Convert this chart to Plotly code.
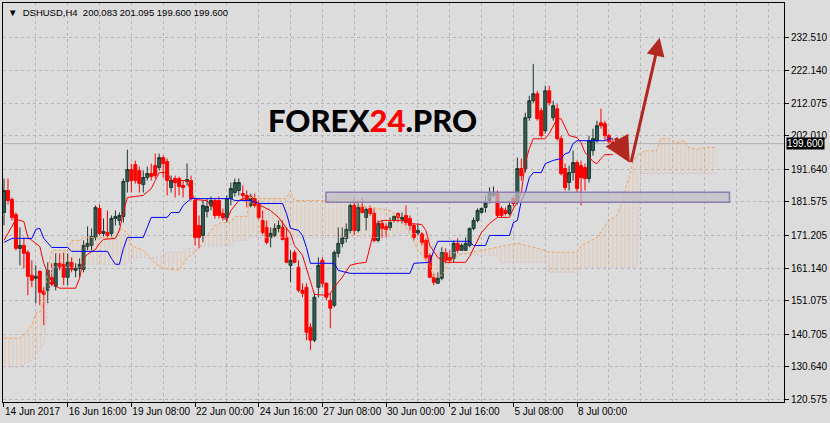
import plotly.graph_objects as go

# ---------------- data ----------------
symbol = "DSHUSD,H4"
time_tick_bars = [0, 16, 32, 48, 64, 80, 96, 112, 128, 144]
time_tick_labels = ["14 Jun 2017", "16 Jun 16:00", "19 Jun 08:00", "22 Jun 00:00", "24 Jun 16:00",
                    "27 Jun 08:00", "30 Jun 00:00", "2 Jul 16:00", "5 Jul 08:00", "8 Jul 00:00"]
price_tick_values = [232.510, 222.140, 212.075, 202.010, 191.640, 181.575,
                     171.205, 161.140, 151.075, 140.705, 130.640, 120.575]

opens = [178.32, 185.10, 182.33, 177.70, 167.22, 168.14, 165.98, 158.89, 157.96, 160.12,
         153.96, 154.26, 158.27, 155.50, 162.59, 162.28, 158.27, 162.90, 160.43, 161.05,
         160.74, 167.83, 168.14, 170.61, 179.55, 171.84, 172.15, 171.84, 176.47, 175.85,
         177.09, 187.88, 191.58, 193.12, 191.27, 186.95, 189.11, 190.35, 192.81, 192.20,
         195.28, 194.05, 186.03, 188.80, 188.80, 186.65, 187.88, 188.19, 182.02, 174.31,
         171.23, 178.63, 180.48, 182.02, 182.02, 178.01, 176.78, 182.64, 184.49, 185.10,
         184.18, 183.56, 180.48, 182.64, 181.09, 175.85, 173.69, 170.61, 171.23, 173.38,
         173.69, 170.61, 161.97, 165.98, 161.36, 154.26, 155.19, 142.85, 138.84, 155.19,
         163.52, 156.42, 151.18, 149.64, 165.68, 168.76, 170.30, 172.77, 180.48, 172.77,
         179.86, 176.78, 179.55, 178.01, 169.68, 174.93, 174.00, 173.69, 175.85, 178.01,
         175.85, 177.39, 176.47, 174.31, 171.84, 171.84, 169.68, 165.06, 158.27, 156.42,
         157.96, 165.98, 164.44, 164.13, 168.76, 166.60, 166.60, 168.14, 173.38, 175.85,
         178.32, 179.86, 182.02, 183.56, 184.49, 179.55, 178.94, 178.01, 182.64, 181.40,
         191.89, 191.89, 207.62, 212.86, 215.02, 209.78, 203.61, 215.94, 207.62, 210.39,
         201.14, 191.89, 187.57, 190.65, 193.74, 192.81, 192.20, 188.80, 197.44, 200.52,
         206.07, 205.77, 202.07, 200.083]
highs = [188.80, 188.80, 182.95, 178.32, 173.69, 170.61, 166.60, 163.52, 161.97, 160.43,
         155.19, 162.90, 162.59, 165.68, 165.68, 165.98, 165.68, 164.44, 162.59, 164.13,
         169.68, 174.00, 173.38, 180.48, 180.79, 176.47, 178.94, 177.39, 178.94, 178.32,
         188.80, 197.75, 193.43, 194.36, 192.51, 191.27, 192.51, 193.43, 196.51, 196.51,
         195.90, 194.97, 189.73, 189.73, 189.42, 188.19, 193.43, 189.73, 182.64, 177.39,
         182.02, 182.64, 183.25, 182.64, 183.25, 179.55, 183.56, 187.57, 188.80, 188.80,
         186.65, 185.10, 184.18, 184.18, 182.02, 178.94, 175.85, 173.69, 174.93, 175.85,
         175.85, 173.69, 166.60, 166.60, 163.52, 156.42, 156.42, 144.09, 153.34, 164.44,
         164.44, 156.73, 153.34, 166.60, 173.69, 173.69, 174.93, 181.09, 182.95, 181.09,
         182.95, 179.86, 180.48, 179.55, 175.85, 175.85, 174.93, 176.78, 177.39, 178.32,
         178.32, 180.48, 177.39, 174.93, 174.93, 172.15, 170.30, 165.68, 159.51, 159.82,
         167.53, 167.22, 166.60, 169.68, 170.30, 168.76, 170.61, 173.69, 176.78, 179.55,
         179.86, 183.56, 186.03, 186.34, 185.10, 180.17, 179.86, 182.02, 183.56, 195.28,
         194.97, 209.16, 214.40, 224.27, 215.94, 210.70, 217.49, 217.49, 212.86, 211.93,
         202.07, 193.43, 192.81, 197.44, 194.36, 194.36, 193.43, 202.07, 204.22, 206.69,
         210.39, 206.69, 202.68, 201.095]
lows = [174.31, 180.79, 175.85, 166.60, 161.97, 161.05, 152.72, 155.19, 150.25, 149.64,
        143.47, 150.25, 155.50, 154.26, 160.43, 155.81, 155.81, 159.82, 158.27, 158.27,
        159.82, 166.60, 166.60, 169.68, 171.23, 170.92, 170.30, 170.92, 174.31, 174.31,
        175.24, 184.49, 184.49, 187.26, 184.49, 184.49, 188.19, 188.19, 188.80, 191.27,
        189.11, 183.56, 184.49, 182.95, 183.56, 182.95, 186.65, 182.02, 168.14, 167.22,
        169.07, 176.78, 178.94, 176.47, 176.47, 175.85, 175.24, 180.48, 183.25, 183.56,
        182.02, 179.86, 179.86, 179.86, 176.16, 171.53, 168.45, 167.53, 170.61, 172.15,
        169.68, 162.59, 156.73, 162.59, 153.65, 152.11, 138.84, 135.76, 138.23, 152.11,
        155.19, 151.18, 142.54, 149.02, 164.44, 167.53, 169.07, 171.84, 171.23, 172.15,
        178.01, 172.77, 177.39, 169.07, 169.07, 170.30, 170.61, 172.77, 175.24, 175.24,
        174.93, 174.31, 172.77, 169.68, 171.23, 168.14, 163.52, 157.96, 155.81, 156.42,
        157.35, 162.59, 162.59, 162.90, 165.68, 166.60, 166.60, 167.53, 172.77, 175.24,
        178.01, 178.32, 181.09, 182.95, 176.78, 176.78, 177.39, 177.39, 180.17, 180.79,
        188.19, 190.65, 206.69, 212.24, 206.69, 201.45, 202.68, 211.32, 206.69, 200.52,
        189.73, 185.10, 185.10, 188.19, 184.49, 180.48, 185.10, 187.57, 195.90, 199.91,
        204.22, 200.52, 199.60, 199.600]
closes = [185.10, 182.02, 176.78, 167.22, 168.14, 165.68, 158.58, 157.35, 158.58, 153.65,
          153.03, 160.43, 156.11, 162.59, 161.36, 158.27, 162.90, 160.74, 161.05, 162.28,
          168.14, 168.76, 170.92, 179.86, 171.84, 172.46, 171.23, 176.47, 177.09, 177.39,
          187.88, 191.58, 188.19, 188.19, 187.26, 189.11, 190.35, 189.42, 189.73, 195.28,
          193.43, 188.19, 188.19, 187.57, 186.34, 186.03, 188.50, 182.64, 170.61, 170.61,
          180.48, 180.17, 182.02, 177.39, 177.39, 176.78, 182.64, 185.72, 187.57, 187.57,
          183.56, 182.02, 182.64, 180.48, 176.78, 172.15, 169.07, 171.84, 173.38, 174.31,
          169.99, 162.90, 163.52, 162.90, 154.26, 153.34, 141.31, 138.84, 152.11, 161.97,
          156.42, 152.11, 148.71, 165.98, 168.76, 170.61, 173.08, 180.48, 172.77, 179.86,
          178.32, 179.24, 178.01, 169.68, 174.93, 173.38, 173.08, 175.24, 177.09, 176.78,
          176.78, 175.24, 174.31, 170.61, 172.77, 169.07, 164.44, 158.27, 156.73, 157.96,
          165.98, 163.52, 163.52, 168.76, 166.60, 168.14, 168.76, 173.38, 175.85, 178.94,
          179.55, 181.40, 184.18, 184.49, 177.39, 177.39, 178.01, 180.48, 181.09, 191.89,
          189.73, 207.62, 212.86, 215.02, 207.31, 202.07, 215.94, 212.24, 211.32, 201.14,
          190.35, 186.03, 190.65, 193.74, 185.72, 189.11, 188.80, 200.52, 201.14, 205.15,
          205.15, 202.07, 200.22, 199.600]
bars = list(range(len(opens)))

# Ichimoku lines (bar index, value) where the line changes
tenkan_bars = [0, 2, 3, 5, 6, 7, 9, 10, 11, 12, 13, 14, 18, 19, 20, 21, 23, 24, 25, 28, 29, 30, 31,
               35, 37, 38, 39, 41, 42, 46, 47, 48, 51, 52, 54, 55, 56, 57, 59, 62, 64, 67, 69, 72,
               73, 75, 76, 77, 78, 81, 82, 83, 85, 87, 89, 91, 92, 93, 94, 95, 100, 102, 105, 106,
               107, 109, 111, 116, 117, 119, 120, 122, 124, 127, 128, 129, 130, 131, 132, 133, 136,
               137, 138, 139, 140, 141, 142, 144, 145, 146, 147, 148, 149, 150, 151, 153]
tenkan_vals = [169.7, 174.3, 176.2, 175.5, 170.6, 169.7, 167.8, 162.6, 159.5, 157.4, 155.5, 154.9,
               154.9, 158.0, 164.1, 165.4, 166.9, 168.8, 170.0, 170.3, 172.8, 178.3, 182.95,
               183.6, 185.7, 188.2, 190.65, 190.65, 188.2, 188.2, 184.5, 182.3, 182.0, 180.2,
               179.55, 176.8, 175.85, 178.9, 182.0, 183.56, 180.8, 178.9, 176.8, 171.8,
               168.1, 165.1, 161.05, 156.4, 153.0, 152.7, 153.3, 155.2, 158.3, 162.0, 162.6,
               162.9, 168.1, 172.8, 175.2, 175.85, 175.85, 174.9, 174.6, 172.8,
               168.1, 164.4, 162.9, 162.9, 164.75, 169.7, 172.15, 174.9, 176.8, 176.8, 179.55,
               181.4, 184.5, 193.7, 198.05, 201.1, 201.1,
               202.7, 205.15, 207.3, 207.3, 204.5, 202.1, 201.45, 199.9, 196.8, 195.6, 194.05,
               193.4, 195.0, 196.2, 196.2]
kijun_bars = [0, 2, 7, 8, 9, 10, 12, 16, 17, 26, 27, 28, 29, 30, 31, 35, 36, 37, 41, 42, 44, 45, 47,
              57, 58, 62, 64, 70, 71, 72, 74, 75, 76, 77, 83, 84, 87, 102, 103, 107, 108, 109, 117,
              118, 121, 122, 127, 128, 129, 130, 131, 132, 133, 135, 136, 138, 140, 141, 142, 143,
              144, 151, 152, 153]
kijun_vals = [169.07, 170.3, 170.3, 173.1, 173.4, 170.3, 167.5, 167.5, 166.3, 166.3, 164.1, 162.3,
              162.3, 167.2, 170.6, 170.6, 173.7, 176.8, 176.8, 178.3, 178.3, 180.5, 182.6,
              182.6, 182.0, 182.0, 181.1, 181.1, 178.0, 173.4, 172.8, 171.2, 167.5, 162.6, 162.6,
              160.4, 159.5, 159.5, 162.6, 162.9, 166.6, 169.4, 169.4,
              168.1, 168.1, 171.2, 171.2, 175.2, 175.85, 182.0, 184.5, 189.1, 190.65, 190.65,
              193.4, 194.4, 195.0, 196.5, 196.8, 199.6, 200.5, 200.5, 201.1, 201.1]
span_a_bars = [0, 4, 5, 6, 7, 8, 9, 10, 11, 12, 16, 17, 19, 20, 28, 29, 31, 32, 35, 38, 40, 44, 46,
               49, 51, 53, 55, 57, 58, 61, 62, 64, 71, 72, 73, 82, 84, 87, 89, 97, 99, 102, 104,
               107, 108, 110, 112, 114, 120, 124, 129, 136, 137, 144, 145, 149, 152, 154, 155,
               156, 157, 158, 159, 161, 164, 165, 167, 169, 171, 172, 174, 176, 179]
span_a_vals = [139.46, 139.46, 140.4, 141.9, 143.5, 147.2, 147.5, 151.2, 160.4, 166.6, 166.6,
               169.7, 169.7, 170.6, 170.6, 173.4, 172.15, 168.1, 166.6, 162.6, 161.05, 160.4,
               164.1, 167.2, 171.2, 174.3, 175.2, 175.2, 177.1, 177.1, 183.25, 182.6, 182.6,
               185.1, 182.0, 182.0, 182.6, 182.6, 180.5, 178.9, 177.4, 171.8, 166.6,
               162.0, 158.0, 158.9, 162.9, 165.1, 166.6, 167.5, 168.8, 166.6, 166.0, 166.0,
               168.1, 170.6, 175.85, 177.4, 180.5, 185.1, 188.8, 193.7, 195.9, 197.4, 197.4,
               201.1, 201.1, 199.9, 200.5, 198.4, 197.75, 198.4, 198.4]
span_b_bars = [0, 4, 7, 9, 10, 11, 12, 20, 21, 31, 32, 39, 41, 45, 46, 49, 50, 57, 58, 61, 62, 98,
               99, 107, 108, 112, 120, 124, 125, 136, 137, 144, 145, 159, 160, 179]
span_b_vals = [130.5, 130.5, 132.7, 135.8, 137.9, 149.6, 161.4, 161.4, 162.3, 162.3, 164.4, 164.4,
               166.0, 166.0, 167.2, 167.2, 168.1, 168.1, 169.7, 169.7, 170.6, 170.6,
               171.8, 171.8, 166.6, 166.0, 165.1, 165.1, 162.9, 162.9, 159.8, 159.8, 161.4,
               161.4, 190.35, 190.35]

zone_low, zone_high = 181.5, 184.6
zone_start_bar, zone_end_bar = 80.9, 182.3

# ---------------- style ----------------
BG = "#DCDCDC"
GRID = "#B6B6B6"
FONT = "Liberation Sans"
ARROW = "#B2271F"

fig = go.Figure()

# Kumo (cloud)
fig.add_trace(go.Scatter(x=span_b_bars, y=span_b_vals, mode="lines",
                         line=dict(color="#D8BFD8", width=1, dash="2px,2px"), hoverinfo="skip"))
fig.add_trace(go.Scatter(x=span_a_bars, y=span_a_vals, mode="lines",
                         line=dict(color="#F4A460", width=1, dash="3px,2px"),
                         fill="tonexty", fillcolor="rgba(0,0,0,0)",
                         fillpattern=dict(shape="|", fgcolor="rgba(244,164,96,0.75)",
                                          bgcolor="rgba(0,0,0,0)", size=4, solidity=0.25),
                         hoverinfo="skip"))

# Candles
fig.add_trace(go.Candlestick(x=bars, open=opens, high=highs, low=lows, close=closes,
                             increasing=dict(line=dict(color="#1E3832", width=1), fillcolor="#2F5E50"),
                             decreasing=dict(line=dict(color="#FF0000", width=1), fillcolor="#FF0000"),
                             whiskerwidth=0, hoverinfo="skip"))

# Tenkan / Kijun
fig.add_trace(go.Scatter(x=tenkan_bars, y=tenkan_vals, mode="lines",
                         line=dict(color="#FF0000", width=1), hoverinfo="skip"))
fig.add_trace(go.Scatter(x=kijun_bars, y=kijun_vals, mode="lines",
                         line=dict(color="#0000FF", width=1), hoverinfo="skip"))

last_close = closes[-1]

fig.update_layout(
    width=830, height=423,
    margin=dict(l=2, r=43, t=2, b=21),
    paper_bgcolor=BG, plot_bgcolor=BG,
    showlegend=False, boxgap=0.25, boxgroupgap=0,
    font=dict(family=FONT, size=10, color="black"),
    shapes=[
        dict(type="line", xref="paper", yref="y", x0=0, x1=1, y0=last_close, y1=last_close,
             line=dict(color="#B0B0B0", width=1), layer="below"),
        dict(type="rect", xref="x", yref="y", x0=zone_start_bar, x1=zone_end_bar,
             y0=zone_low, y1=zone_high, fillcolor="rgba(190,190,198,0.72)",
             line=dict(color="#8E7DAE", width=1.5), layer="above"),
    ],
)

fig.update_xaxes(
    range=[-0.25, 196], tickmode="array", tickvals=time_tick_bars, ticktext=time_tick_labels,
    tickangle=0, ticks="outside", ticklen=4, tickcolor="black", ticklabelposition="outside right",
    showgrid=True, gridcolor=GRID, griddash="3px,3px", gridwidth=1,
    minor=dict(tick0=0, dtick=8, showgrid=True, gridcolor=GRID, griddash="3px,3px", ticks=""),
    showline=True, linecolor="black", linewidth=1, mirror=True, zeroline=False,
    rangeslider=dict(visible=False), fixedrange=True,
)
fig.update_yaxes(
    side="right", range=[119.72, 243.08], tickmode="array", tickvals=price_tick_values,
    ticktext=[f"{v:.3f}" for v in price_tick_values],
    ticks="outside", ticklen=4, tickcolor="black",
    showgrid=True, gridcolor=GRID, griddash="3px,3px", gridwidth=1,
    showline=True, linecolor="black", linewidth=1, mirror=True, zeroline=False, fixedrange=True,
)

header = "▼  " + symbol + "  " + " ".join(f"{v:.3f}" for v in (opens[-1], highs[-1], lows[-1], closes[-1]))
fig.add_annotation(x=0, y=1, xref="paper", yref="paper", xanchor="left", yanchor="top",
                   xshift=3, yshift=-2, text=header, showarrow=False,
                   font=dict(family=FONT, size=9.5, color="black"))

# current price label
fig.add_annotation(x=1, y=last_close, xref="paper", yref="y", xanchor="left", yanchor="middle",
                   xshift=2, text=f"{last_close:.3f}", showarrow=False, bgcolor="black",
                   borderpad=0, font=dict(family=FONT, size=10, color="white"))

# logo
fig.add_annotation(x=0.4726, y=0.706, xref="paper", yref="paper", xanchor="center", yanchor="middle",
                   text="FOREX<span style='color:#FF0000'>24</span>.PRO", showarrow=False,
                   font=dict(family="Lato, DejaVu Sans", size=31, color="black", weight=900))

# arrows
fig.add_annotation(x=157.25, y=193.7, ax=153.5, ay=201.8, xref="x", yref="y", axref="x", ayref="y",
                   text="", showarrow=True, arrowhead=2, arrowsize=1.3, arrowwidth=4,
                   arrowcolor=ARROW, standoff=0, startstandoff=0)
fig.add_annotation(x=164.75, y=232.3, ax=157.5, ay=193.4, xref="x", yref="y", axref="x", ayref="y",
                   text="", showarrow=True, arrowhead=2, arrowsize=1.2, arrowwidth=3,
                   arrowcolor=ARROW, standoff=0, startstandoff=0)

fig.write_html("out.html", config={"displayModeBar": False},
               post_script="document.body.style.margin='0';document.body.style.overflow='hidden';")
